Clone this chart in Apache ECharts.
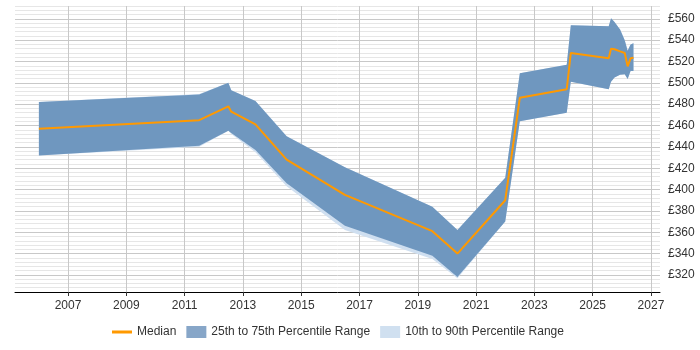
<!DOCTYPE html>
<html>
<head>
<meta charset="utf-8">
<script src="https://cdn.jsdelivr.net/npm/echarts@6/dist/echarts.min.js"></script>
<style>
  html, body { margin: 0; padding: 0; background: #fff; }
  #chart { width: 700px; height: 350px; }
</style>
</head>
<body>
<div id="chart"></div>
<script>
// decimal years where the bands change
var years = [2006.0, 2011.5, 2012.5, 2012.6, 2013.43, 2014.5, 2016.5, 2019.5, 2020.36, 2022.0,
  2022.5, 2024.11, 2024.25, 2025.55, 2025.63, 2025.75, 2025.94, 2026.1, 2026.2, 2026.3, 2026.4]
var median = [457, 465, 478, 473, 461, 428, 395, 361, 340, 390,
  486, 494, 528, 523, 532, 531.5, 529.5, 528, 515.5, 523, 523.5]
var p25 = [432, 441, 455, 453, 437, 406, 366, 338, 318, 370,
  464, 472, 501, 494, 501, 505, 507.5, 508, 503.5, 511, 511]
var p75 = [482, 489, 500, 493, 483, 450, 421, 384, 362, 411,
  509, 517, 554, 553, 560.5, 557, 550, 540, 530, 536, 537]
var p10 = [432, 440, 455, 452, 435, 403, 362, 335, 317, 370,
  464, 472, 501, 494, 501, 505, 507.5, 508, 503.5, 511, 511]
var p90 = [482, 489.5, 500, 493, 483, 450, 421, 384, 362, 411,
  509, 517, 554, 553, 560.5, 557, 550, 540, 530, 536, 537]
var yearTicks = [2007, 2009, 2011, 2013, 2015, 2017, 2019, 2021, 2023, 2025, 2027]
var priceTicks = [320, 340, 360, 380, 400, 420, 440, 460, 480, 500, 520, 540, 560]

function pairs(vals) {
  return years.map(function (y, i) { return [y, vals[i]] })
}

// one polygon per band: upper edge left to right, lower edge back
function bandSeries(name, lo, hi, color) {
  return {
    name: name,
    type: 'custom',
    silent: true,
    data: [0],
    renderItem: function (params, api) {
      var pts = []
      for (var i = 0; i < years.length; i++) pts.push(api.coord([years[i], hi[i]]))
      for (var j = years.length - 1; j >= 0; j--) pts.push(api.coord([years[j], lo[j]]))
      return {
        type: 'polygon',
        shape: { points: pts },
        style: { fill: color }
      }
    }
  }
}

var chart = echarts.init(document.getElementById('chart'))
var font = 'Liberation Sans, Arial, sans-serif'
chart.setOption({
  animation: false,
  grid: { left: 15, right: 40, top: 6, bottom: 58 },
  legend: {
    bottom: 7,
    left: 107,
    itemWidth: 20,
    itemHeight: 12,
    itemGap: 10,
    textStyle: { color: '#333', fontSize: 12, fontFamily: font },
    data: [
      { name: 'Median', icon: 'path://M0,5 L20,5 L20,8 L0,8 Z', itemStyle: { color: '#ff9900' } },
      { name: '25th to 75th Percentile Range', icon: 'rect', itemStyle: { color: '#87a6c8' } },
      { name: '10th to 90th Percentile Range', icon: 'rect', itemStyle: { color: '#d0e0f0' } }
    ]
  },
  xAxis: {
    type: 'value',
    min: 2005.18,
    max: 2027.31,
    axisLine: { lineStyle: { color: '#000', width: 1 } },
    axisTick: { show: true, length: 4, lineStyle: { color: '#333' }, customValues: yearTicks },
    axisLabel: { color: '#333', fontSize: 12, margin: 8, customValues: yearTicks, fontFamily: font,
      formatter: function (v) { return String(v) } },
    splitLine: { show: true, lineStyle: { color: '#c8c8c8', width: 1 } }
  },
  yAxis: {
    type: 'value',
    position: 'right',
    min: 304,
    max: 572,
    interval: 4,
    axisLine: { show: false },
    axisTick: { show: false },
    axisLabel: {
      color: '#333', fontSize: 12, margin: 8, customValues: priceTicks, fontFamily: font,
      formatter: function (v) { return '£' + v }
    },
    splitLine: {
      show: true,
      lineStyle: { color: ['#e6e6e6', '#e6e6e6', '#e6e6e6', '#e6e6e6', '#c8c8c8'], width: 1 }
    }
  },
  series: [
    bandSeries('10th to 90th Percentile Range', p10, p90, '#cfdff0'),
    bandSeries('25th to 75th Percentile Range', p25, p75, '#6f97bf'),
    { name: 'Median', type: 'line', data: pairs(median), symbol: 'none',
      lineStyle: { color: '#ff9900', width: 2 }, itemStyle: { color: '#ff9900' } }
  ]
})
</script>
</body>
</html>
